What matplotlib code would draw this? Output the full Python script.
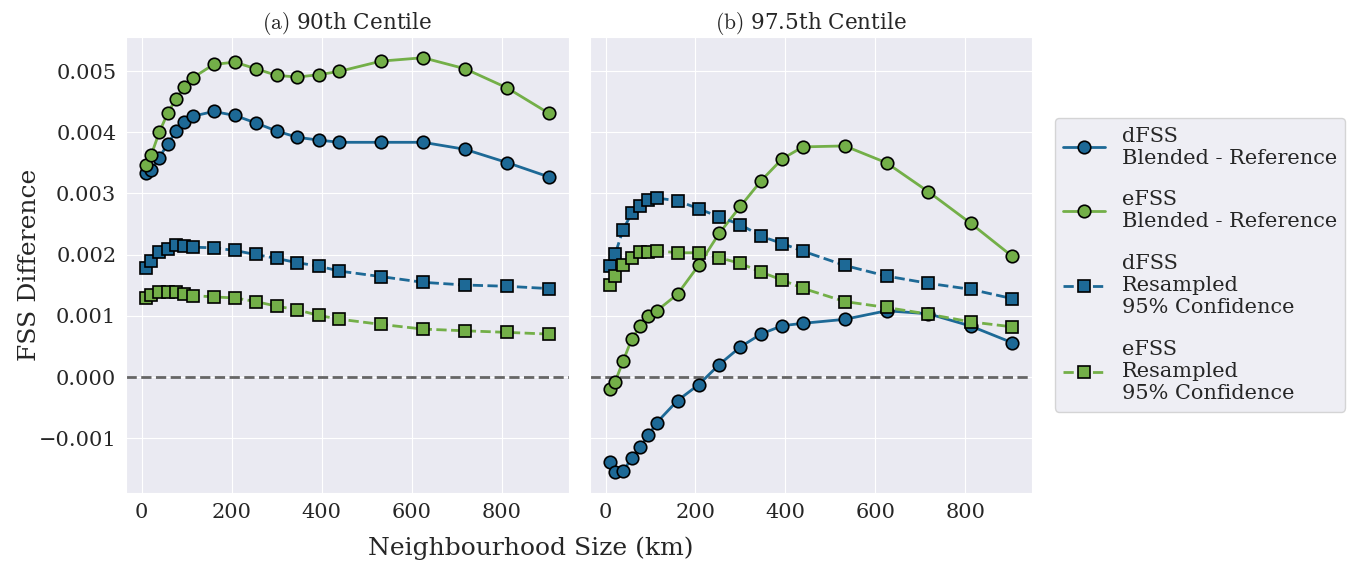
import matplotlib
matplotlib.use('Agg')
import matplotlib.pyplot as plt
import seaborn as sns

sns.set_style('darkgrid')
plt.rcParams['font.family'] = ['DejaVu Serif']
plt.rcParams['mathtext.fontset'] = 'cm'

# neighbourhood sizes (km)
sizes = [10, 21, 39, 58, 77, 95, 114, 160, 207, 253, 300, 346, 393, 439, 532, 625, 718, 812, 904]

# (a) 90th centile
dfss_90 = [3.337, 3.385, 3.585, 3.813, 4.020, 4.166, 4.263, 4.340, 4.275, 4.154, 4.020,
           3.917, 3.873, 3.836, 3.836, 3.836, 3.722, 3.504, 3.272]
efss_90 = [3.462, 3.624, 3.998, 4.317, 4.551, 4.746, 4.893, 5.109, 5.146, 5.039, 4.930,
           4.902, 4.941, 4.995, 5.163, 5.218, 5.039, 4.724, 4.312]
dfss_ci_90 = [1.780, 1.894, 2.041, 2.085, 2.150, 2.138, 2.122, 2.112, 2.068, 2.003, 1.938,
              1.868, 1.813, 1.732, 1.641, 1.548, 1.504, 1.483, 1.446]
efss_ci_90 = [1.299, 1.341, 1.385, 1.390, 1.385, 1.353, 1.332, 1.309, 1.293, 1.234, 1.158,
              1.098, 1.007, 0.946, 0.860, 0.784, 0.756, 0.730, 0.702]

# (b) 97.5th centile
dfss_975 = [-1.394, -1.556, -1.540, -1.324, -1.138, -0.954, -0.743, -0.385, -0.125, 0.205, 0.493,
            0.704, 0.839, 0.878, 0.943, 1.083, 1.034, 0.834, 0.563]
efss_975 = [-0.190, -0.081, 0.260, 0.618, 0.834, 0.992, 1.083, 1.354, 1.826, 2.351, 2.790,
            3.208, 3.566, 3.761, 3.777, 3.501, 3.029, 2.514, 1.977]
dfss_ci_975 = [1.820, 2.003, 2.410, 2.675, 2.789, 2.893, 2.925, 2.881, 2.751, 2.616, 2.491,
               2.301, 2.182, 2.057, 1.824, 1.650, 1.532, 1.434, 1.283]
efss_ci_975 = [1.499, 1.650, 1.836, 1.938, 2.036, 2.047, 2.063, 2.031, 2.031, 1.950, 1.857,
               1.715, 1.585, 1.450, 1.234, 1.137, 1.028, 0.902, 0.821]

titles = [r'$\mathrm{(a)}$ 90th Centile', r'$\mathrm{(b)}$ 97.5th Centile']
labels = ['dFSS\nBlended - Reference', 'eFSS\nBlended - Reference',
          'dFSS\nResampled\n95% Confidence', 'eFSS\nResampled\n95% Confidence']

blue = '#1D6996'
green = '#73AF48'

fig = plt.figure(figsize=(13.51, 5.66), dpi=100)
ax1 = fig.add_axes([0.0933, 0.129, 0.3277, 0.8056])
ax2 = fig.add_axes([0.4367, 0.129, 0.3272, 0.8056], sharey=ax1)

panels = [(ax1, dfss_90, efss_90, dfss_ci_90, efss_ci_90),
          (ax2, dfss_975, efss_975, dfss_ci_975, efss_ci_975)]

for i, (ax, d, e, dc, ec) in enumerate(panels):
    ax.axhline(0, color='#666666', ls='--', lw=2, zorder=1)
    series = [(d, blue, '-', 'o'), (e, green, '-', 'o'), (dc, blue, '--', 's'), (ec, green, '--', 's')]
    for j, (vals, col, ls, mk) in enumerate(series):
        ax.plot(sizes, [v * 1e-3 for v in vals], color=col, ls=ls, lw=2, marker=mk,
                markersize=9 if mk == 'o' else 8, markerfacecolor=col, markeredgecolor='black',
                markeredgewidth=1.2, label=labels[j])
    ax.set_title(titles[i], fontsize=15.5)
    ax.tick_params(labelsize=15)
    ax.set_xticks([0, 200, 400, 600, 800])

plt.setp(ax2.get_yticklabels(), visible=False)

fig.text(0.393, 0.032, 'Neighbourhood Size (km)', fontsize=18, ha='center', va='center')
fig.text(0.022, 0.532, 'FSS Difference', fontsize=18, rotation=90, ha='center', va='center')

handles, labs = ax1.get_legend_handles_labels()
fig.legend(handles, labs, loc='center left', bbox_to_anchor=(0.781, 0.532), fontsize=15,
           handlelength=2, labelspacing=1.1, borderaxespad=0, frameon=True)

fig.savefig('out.png', dpi=100)
